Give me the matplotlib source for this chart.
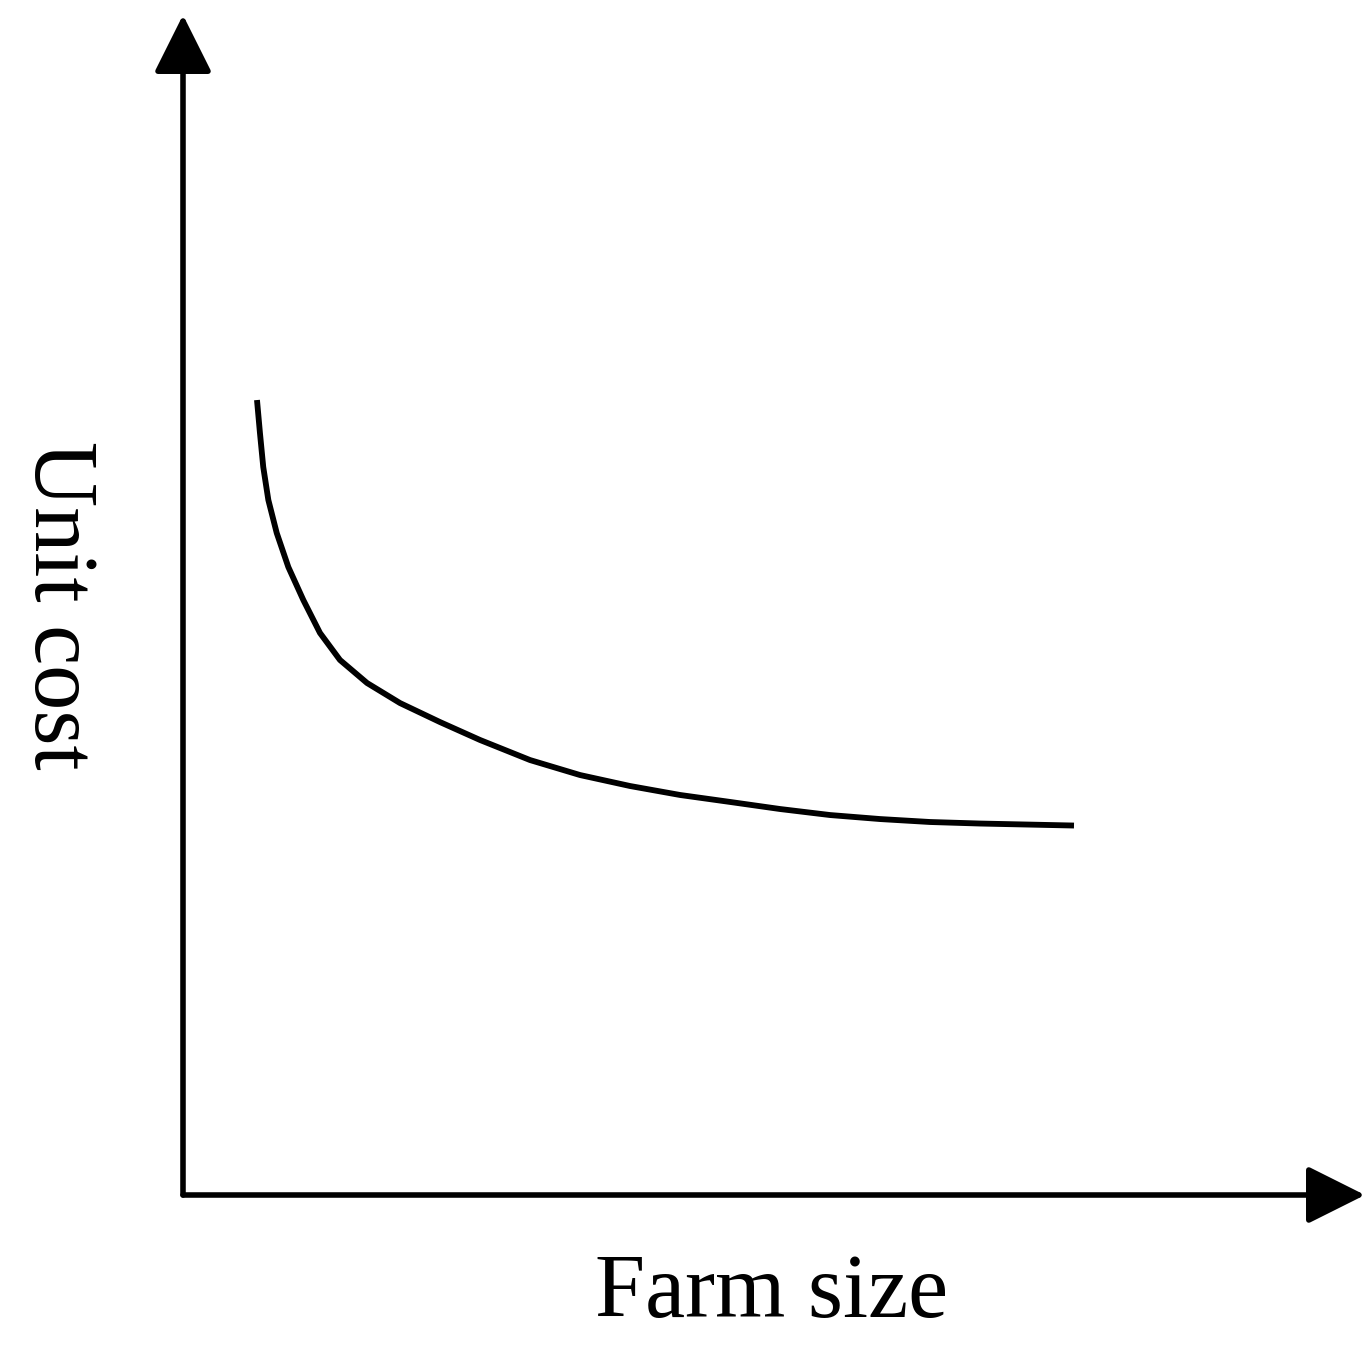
import matplotlib
matplotlib.use("Agg")
import matplotlib.pyplot as plt

# Conceptual curve: unit cost vs farm size (arbitrary units)
farm_size = [6.26, 6.51, 6.79, 7.22, 7.93, 8.91, 10.18, 11.59, 13.28, 15.57, 18.36,
             21.74, 25.13, 29.36, 33.59, 37.82, 42.05, 46.28, 50.51, 54.74, 58.97,
             63.20, 67.43, 75.38]
unit_cost = [67.37, 64.58, 61.69, 58.90, 56.10, 53.22, 50.42, 47.63, 45.34, 43.39, 41.69,
             40.08, 38.56, 36.86, 35.59, 34.66, 33.90, 33.31, 32.71, 32.20, 31.86,
             31.61, 31.48, 31.31]
x_label = "Farm size"
y_label = "Unit cost"

fig = plt.figure(figsize=(13.68, 13.55), dpi=100)
ax = fig.add_axes([183/1368, 1 - 1195/1355, (1365-183)/1368, (1195-15)/1355])
ax.set_xlim(0, 100)
ax.set_ylim(0, 100)
ax.axis("off")

ax.plot(farm_size, unit_cost, color="black", lw=4.2, solid_capstyle="butt",
        solid_joinstyle="round")

arrow = dict(arrowstyle="-|>,head_length=0.5,head_width=0.25", lw=4.0,
             color="black", mutation_scale=72, shrinkA=0, shrinkB=0)
ax.annotate("", xy=(0, 100), xytext=(0, 0), arrowprops=arrow, annotation_clip=False)
ax.annotate("", xy=(100, 0), xytext=(0, 0), arrowprops=arrow, annotation_clip=False)

fig.text(772/1368, 1 - 1295/1355, x_label, fontsize=65, family="Liberation Serif",
         ha="center", va="center")
fig.text(57/1368, 1 - 605/1355, y_label, fontsize=65, family="Liberation Serif",
         ha="center", va="center", rotation=-90)

fig.savefig("out.png", dpi=100, facecolor="white")
